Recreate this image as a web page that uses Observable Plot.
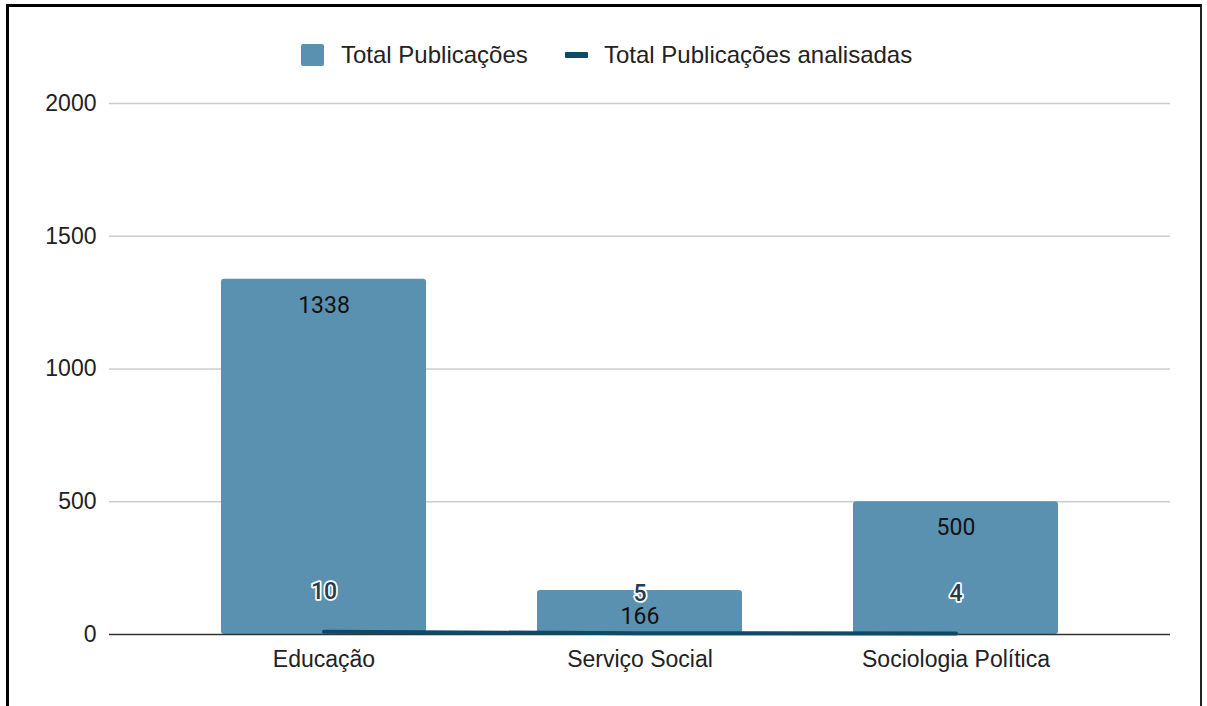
<!DOCTYPE html>
<html>
<head>
<meta charset="utf-8">
<script src="https://cdn.jsdelivr.net/npm/d3@7"></script>
<script src="https://cdn.jsdelivr.net/npm/@observablehq/plot@0.6"></script>
<style>
  html, body { margin: 0; padding: 0; background: #fff; width: 1207px; height: 706px; overflow: hidden; }
  #frame { position: absolute; left: 6px; top: 4px; width: 1196px; height: 720px;
           border-left: 3px solid #000; border-top: 3px solid #000; border-right: 2px solid #222; box-sizing: border-box; }
  #chart { position: absolute; left: 0; top: 0; }
  .legend { position: absolute; font-family: "Liberation Sans", Arial, sans-serif; font-size: 24px; line-height: 28px; color: #222; white-space: nowrap; }
  .sw { position: absolute; }
</style>
</head>
<body>
<div id="frame"></div>
<div id="chart"></div>
<div id="legend"></div>
<script>
const categories = ["Educação", "Serviço Social", "Sociologia Política"];
const totalPublicacoes = [1338, 166, 500];
const totalAnalisadas = [10, 5, 4];
const yTicks = [0, 500, 1000, 1500, 2000];
const seriesNames = ["Total Publicações", "Total Publicações analisadas"];
const barColor = "#5a91b0";
const lineColor = "#0d4a68";

const data = categories.map((c, i) => ({cat: c, total: totalPublicacoes[i], analisadas: totalAnalisadas[i]}));

const chart = Plot.plot({
  width: 1207,
  height: 706,
  marginLeft: 109,
  marginRight: 37,
  marginTop: 103,
  marginBottom: 72,
  style: {fontFamily: "'Liberation Sans', Arial, sans-serif", fontSize: "23px", color: "#222", background: "transparent"},
  x: {domain: categories, padding: 0.35, label: null, tickSize: 0, tickPadding: 16},
  y: {domain: [0, 2000], ticks: yTicks, tickFormat: d3.format("d"), label: null, tickSize: 0, tickPadding: 13},
  marks: [
    Plot.ruleY(yTicks.filter(d => d > 0), {stroke: "#cccccc", strokeWidth: 1.5}),
    Plot.barY(data, {x: "cat", y: "total", fill: barColor, rx: 3}),
    Plot.ruleY([0], {stroke: "#333", strokeWidth: 1.5}),
    Plot.line(data, {x: "cat", y: "analisadas", stroke: lineColor, strokeWidth: 4}),
    Plot.text(data, {x: "cat", y: "total", text: d => String(d.total), dy: 26, fill: "#111", fontSize: 23, fontFamily: "Roboto, sans-serif"}),
    Plot.text(data, {x: "cat", y: "analisadas", text: d => String(d.analisadas), dy: -40, fill: "#243c4c", stroke: "#fff", strokeWidth: 3.5, fontSize: 23, fontWeight: 500, fontFamily: "Roboto, sans-serif"})
  ]
});
document.getElementById("chart").appendChild(chart);

const legend = document.getElementById("legend");
legend.innerHTML = `
  <div class="sw" style="left:301px;top:44px;width:23px;height:22px;background:${barColor};border-radius:2px"></div>
  <div class="legend" style="left:341px;top:41px">${seriesNames[0]}</div>
  <div class="sw" style="left:565px;top:52px;width:23px;height:6px;background:${lineColor};border-radius:1px"></div>
  <div class="legend" style="left:604px;top:41px">${seriesNames[1]}</div>
`;
</script>
</body>
</html>
